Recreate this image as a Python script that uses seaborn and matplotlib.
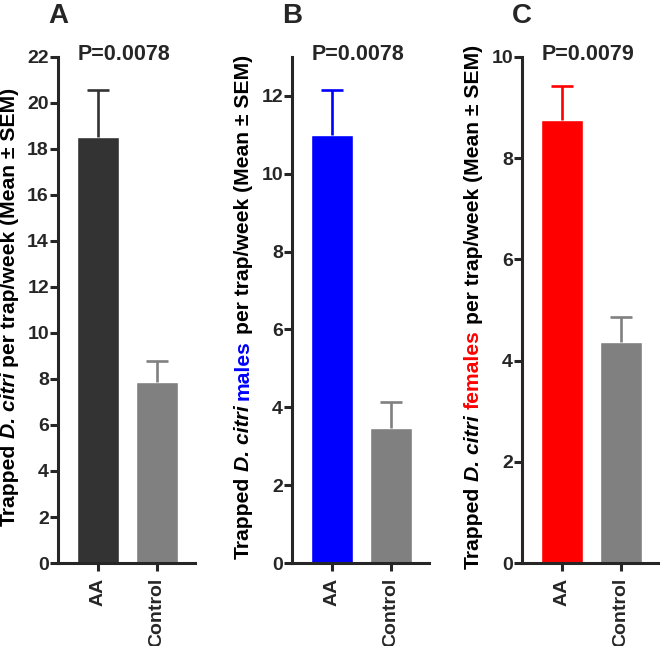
import matplotlib
matplotlib.use("Agg")
import matplotlib.pyplot as plt
import seaborn as sns
import numpy as np

# data (mean and upper SEM)
groups = ["AA", "Control"]
mean_total = [18.5, 7.85]
sem_total = [2.05, 0.95]
mean_males = [11.0, 3.48]
sem_males = [1.15, 0.65]
mean_females = [8.75, 4.37]
sem_females = [0.67, 0.50]

panel_letters = ["A", "B", "C"]
p_values = ["P=0.0078", "P=0.0078", "P=0.0079"]
y_top = [22, 13, 10]
y_tick_top = [22, 12, 10]
sex_words = [None, "males", "females"]
aa_colors = ["#333333", "#0000ff", "#ff0000"]
control_color = "#808080"

means = [mean_total, mean_males, mean_females]
sems = [sem_total, sem_males, sem_females]

sns.set_style("ticks")
plt.rcParams["font.family"] = ["Liberation Sans", "DejaVu Sans"]
plt.rcParams["font.weight"] = "bold"

W, H = 660, 646
fig = plt.figure(figsize=(W / 100, H / 100), dpi=100)
renderer = fig.canvas.get_renderer()

spine_px = [58, 292, 522]
ax_w_px = 137
bottom_px, top_px = 563, 57
bar_w = 0.71
xlim = (-0.68, 1.64)


def text_width(s, **kw):
    t = fig.text(0, 0, s, **kw)
    w = t.get_window_extent(renderer).width
    t.remove()
    return w


def stacked_ylabel(x_px, y_center_px, pieces, size):
    # draw rotated label made of several styled pieces, bottom to top
    sp = text_width("a a", fontsize=size, weight="bold") - text_width("aa", fontsize=size, weight="bold")
    widths = [text_width(s, fontsize=size, weight="bold", style=st) for s, st, c in pieces]
    total = sum(widths) + sp * (len(pieces) - 1)
    y = (H - y_center_px) - total / 2
    for (s, st, c), w in zip(pieces, widths):
        fig.text(x_px / W, y / H, s, fontsize=size, weight="bold", style=st, color=c,
                 rotation=90, rotation_mode="anchor", ha="left", va="baseline")
        y += w + sp


for i in range(3):
    ax = fig.add_axes([spine_px[i] / W, 1 - bottom_px / H, ax_w_px / W, (bottom_px - top_px) / H])
    cols = [aa_colors[i], control_color]
    sns.barplot(x=groups, y=means[i], hue=groups, palette=cols, saturation=1,
                width=bar_w, legend=False, errorbar=None, ax=ax)
    for j in range(2):
        _, caps, _ = ax.errorbar(j, means[i][j], yerr=[[0], [sems[i][j]]], fmt="none",
                                 ecolor=cols[j], elinewidth=1.9, capsize=8, capthick=1.9)
        caps[0].remove()  # one-sided bar: drop the lower cap

    ax.set_xlim(*xlim)
    ax.set_ylim(0, y_top[i])
    ax.set_yticks(np.arange(0, y_tick_top[i] + 1, 2))
    ax.set_xlabel("")
    ax.set_ylabel("")
    sns.despine(ax=ax)
    for s in ["left", "bottom"]:
        ax.spines[s].set_linewidth(2.2)
    ax.tick_params(axis="y", width=2.2, length=5.5, pad=1, labelsize=14)
    ax.tick_params(axis="x", width=2.2, length=5.5, pad=5, labelsize=14, labelrotation=90)
    for lab in ax.get_xticklabels() + ax.get_yticklabels():
        lab.set_fontweight("bold")

    ax.text(-bar_w / 2, 0.994, p_values[i], transform=ax.get_xaxis_transform(),
            ha="left", va="baseline", fontsize=15.5, weight="bold")

    fig.text(spine_px[i] / W, 1 - 16 / H, panel_letters[i], ha="center", va="center",
             fontsize=20, weight="bold")

    pieces = [("Trapped", "normal", "black"), ("D. citri", "italic", "black")]
    if sex_words[i]:
        pieces.append((sex_words[i], "normal", aa_colors[i]))
    pieces.append(("per trap/week (Mean \u00b1 SEM)", "normal", "black"))
    stacked_ylabel(spine_px[i] - 43, 307, pieces, 15.2)

fig.savefig("out.png", dpi=100)
